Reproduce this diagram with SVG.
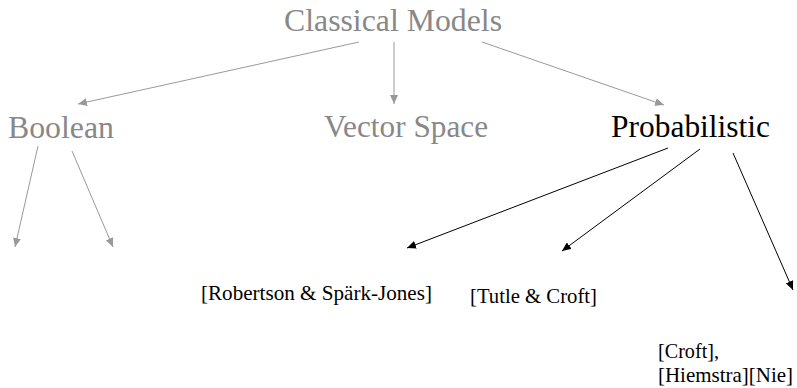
<svg xmlns="http://www.w3.org/2000/svg" width="797" height="388" viewBox="0 0 797 388">
<style>
text{font-family:'Liberation Serif','Times New Roman',serif}
.big{font-size:32px}
.small{font-size:21px;fill:#000}
.gray{fill:#888888}
.black{fill:#000}
.gl{stroke:#999999;stroke-width:1;fill:none}
.bl{stroke:#000;stroke-width:1;fill:none}
</style>
<defs>
<marker id="ag" markerUnits="userSpaceOnUse" markerWidth="9" markerHeight="8" refX="9" refY="4" orient="auto"><path d="M0,0 L9,4 L0,8 z" fill="#999999"/></marker>
<marker id="ab" markerUnits="userSpaceOnUse" markerWidth="9" markerHeight="8" refX="9" refY="4" orient="auto"><path d="M0,0 L9,4 L0,8 z" fill="#000"/></marker>
</defs>
<rect width="797" height="388" fill="#fff"/>
<g id="connectors">
<line class="gl" x1="359" y1="42" x2="78" y2="104" marker-end="url(#ag)"/>
<line class="gl" x1="394" y1="42" x2="394" y2="104" marker-end="url(#ag)"/>
<line class="gl" x1="482" y1="42" x2="664" y2="105" marker-end="url(#ag)"/>
<line class="gl" x1="38" y1="146" x2="15" y2="247" marker-end="url(#ag)"/>
<line class="gl" x1="72" y1="151" x2="113" y2="247" marker-end="url(#ag)"/>
<line class="bl" x1="668" y1="148" x2="407" y2="248" marker-end="url(#ab)"/>
<line class="bl" x1="700" y1="149" x2="562" y2="251" marker-end="url(#ab)"/>
<line class="bl" x1="733" y1="153" x2="793" y2="290" marker-end="url(#ab)"/>
</g>
<g id="classical"><text class="big gray" x="284" y="31" textLength="218" lengthAdjust="spacingAndGlyphs">Classical Models</text></g>
<g id="boolean"><text class="big gray" x="8" y="138" textLength="106" lengthAdjust="spacingAndGlyphs">Boolean</text></g>
<g id="vector"><text class="big gray" x="324" y="137" textLength="164" lengthAdjust="spacingAndGlyphs">Vector Space</text></g>
<g id="probabilistic"><text class="big black" x="611" y="137" textLength="159" lengthAdjust="spacingAndGlyphs">Probabilistic</text></g>
<g id="robertson"><text class="small" x="201" y="300" textLength="231" lengthAdjust="spacingAndGlyphs">[Robertson &amp; Spärk-Jones]</text></g>
<g id="tutle"><text class="small" x="470" y="303" textLength="127" lengthAdjust="spacingAndGlyphs">[Tutle &amp; Croft]</text></g>
<g id="croft"><text class="small" x="658" y="358" textLength="61" lengthAdjust="spacingAndGlyphs">[Croft],</text><text class="small" x="658" y="382" textLength="135" lengthAdjust="spacingAndGlyphs">[Hiemstra][Nie]</text></g>
</svg>
